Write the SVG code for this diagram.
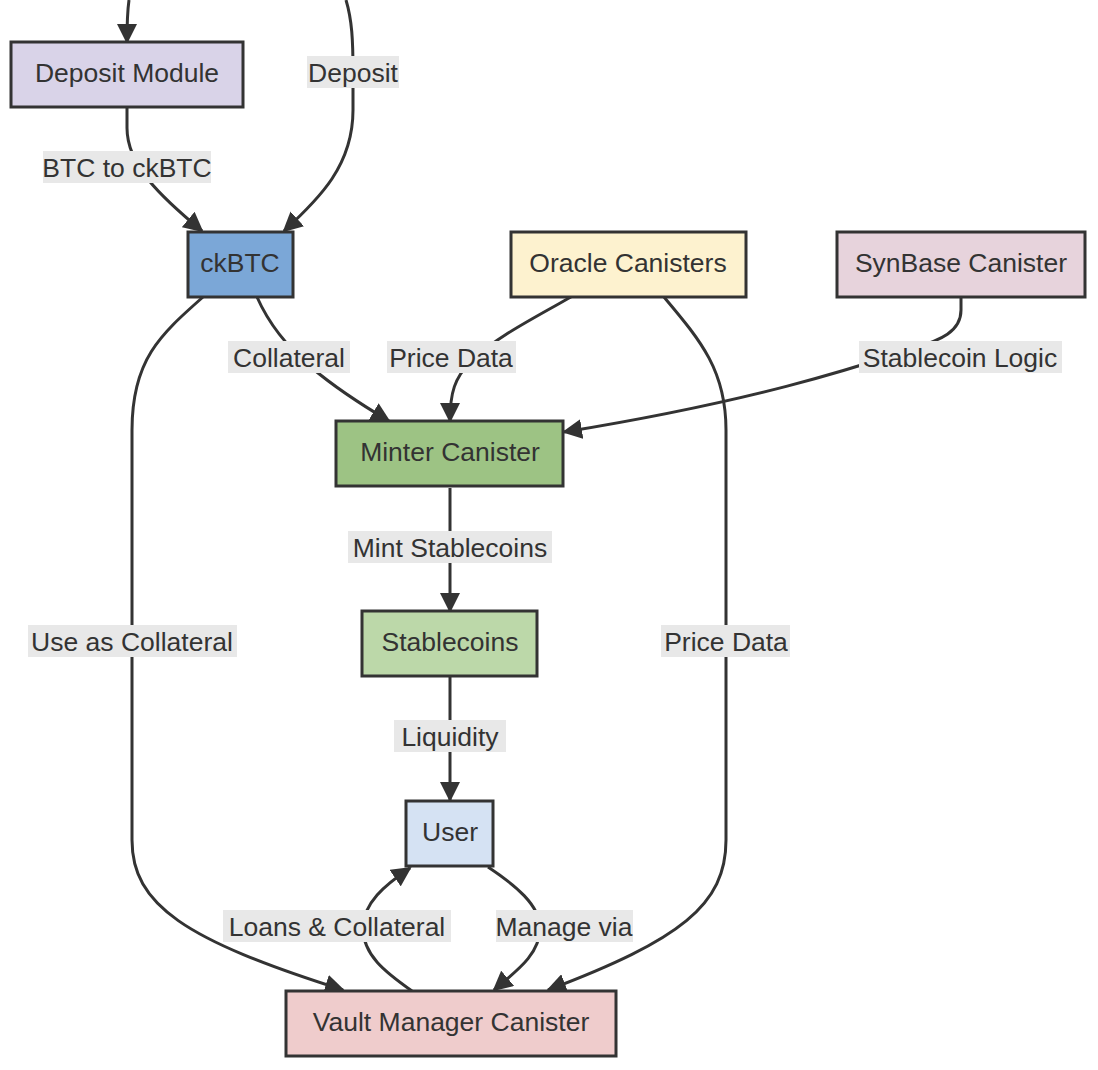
<svg xmlns="http://www.w3.org/2000/svg" width="1098" height="1070" viewBox="0 0 1098 1070">
<defs>
<style>
.node rect{stroke:#333;stroke-width:3}
.node text,.lbl text{font-family:"Liberation Sans",Arial,sans-serif;font-size:26.5px;fill:#333;text-anchor:middle}
.edge{fill:none;stroke:#333;stroke-width:3}
.lbl rect{fill:#e8e8e8}
</style>
<marker id="arr" viewBox="0 0 10 10" refX="9" refY="5" markerUnits="userSpaceOnUse" markerWidth="20" markerHeight="20" orient="auto">
<path d="M0,0 L10,5 L0,10 z" fill="#333"/>
</marker>
</defs>
<rect width="1098" height="1070" fill="#fff"/>
<g id="connectors">
<path class="edge" marker-end="url(#arr)" d="M129,0 Q127,14 127,42"/>
<path class="edge" marker-end="url(#arr)" d="M346,0 C352,20 353,40 353,72 L353,110 C353,165 320,198 284,231"/>
<path class="edge" marker-end="url(#arr)" d="M127,108 L127,128 C127,165 160,196 202,231"/>
<path class="edge" marker-end="url(#arr)" d="M257,297 C268,322 286,346 312,368 C338,390 362,405 389,421"/>
<path class="edge" marker-end="url(#arr)" d="M571,297 C530,320 495,338 470,362 C455,378 450,392 450,421"/>
<path class="edge" marker-end="url(#arr)" d="M961,297 L961,310 C961,332 940,340 915,348 C860,366 760,400 564,432"/>
<path class="edge" marker-end="url(#arr)" d="M203,297 C160,335 132,360 132,430 L132,840 C132,905 185,940 343,990"/>
<path class="edge" marker-end="url(#arr)" d="M664,297 C700,340 726,370 726,430 L726,840 C726,905 680,940 548,990"/>
<path class="edge" marker-end="url(#arr)" d="M450,488 L450,611"/>
<path class="edge" marker-end="url(#arr)" d="M450,677 L450,800"/>
<path class="edge" marker-end="url(#arr)" d="M488,867 C515,885 540,905 540,928 C540,955 515,972 494,990"/>
<path class="edge" marker-end="url(#arr)" d="M412,991 C385,972 363,955 363,928 C363,903 385,885 410,868"/>
</g>
<g id="labels">
<g class="lbl"><rect x="307" y="56" width="92" height="32"/><text x="353" y="81.5">Deposit</text></g>
<g class="lbl"><rect x="43" y="151" width="168" height="32"/><text x="127" y="176.5">BTC to ckBTC</text></g>
<g class="lbl"><rect x="228" y="341" width="122" height="32"/><text x="289" y="366.5">Collateral</text></g>
<g class="lbl"><rect x="387" y="341" width="129" height="32"/><text x="451" y="366.5">Price Data</text></g>
<g class="lbl"><rect x="859" y="341" width="203" height="32"/><text x="960" y="366.5">Stablecoin Logic</text></g>
<g class="lbl"><rect x="348" y="531" width="204" height="32"/><text x="450" y="556.5">Mint Stablecoins</text></g>
<g class="lbl"><rect x="28" y="625" width="209" height="32"/><text x="132" y="650.5">Use as Collateral</text></g>
<g class="lbl"><rect x="661" y="625" width="129" height="32"/><text x="726" y="650.5">Price Data</text></g>
<g class="lbl"><rect x="394" y="720" width="112" height="32"/><text x="450" y="745.5">Liquidity</text></g>
<g class="lbl"><rect x="223" y="910" width="228" height="32"/><text x="337" y="935.5">Loans &amp; Collateral</text></g>
<g class="lbl"><rect x="496" y="910" width="137" height="32"/><text x="564" y="935.5">Manage via</text></g>
</g>
<g id="deposit" class="node"><rect x="11" y="42" width="232" height="65" fill="#d9d3e8"/><text x="127" y="82">Deposit Module</text></g>
<g id="ckbtc" class="node"><rect x="188" y="232" width="105" height="65" fill="#7ba7d7"/><text x="240" y="272">ckBTC</text></g>
<g id="oracle" class="node"><rect x="511" y="232" width="235" height="65" fill="#fdf2cf"/><text x="628" y="272">Oracle Canisters</text></g>
<g id="synbase" class="node"><rect x="837" y="232" width="248" height="65" fill="#e7d3dc"/><text x="961" y="272">SynBase Canister</text></g>
<g id="minter" class="node"><rect x="336" y="421" width="227" height="65" fill="#9dc384"/><text x="450" y="461">Minter Canister</text></g>
<g id="stablecoins" class="node"><rect x="362" y="611" width="175" height="65" fill="#bcd8a9"/><text x="450" y="651">Stablecoins</text></g>
<g id="user" class="node"><rect x="406" y="801" width="87" height="65" fill="#d5e2f3"/><text x="450" y="841">User</text></g>
<g id="vault" class="node"><rect x="286" y="991" width="330" height="65" fill="#efcccc"/><text x="451" y="1031">Vault Manager Canister</text></g>
</svg>
